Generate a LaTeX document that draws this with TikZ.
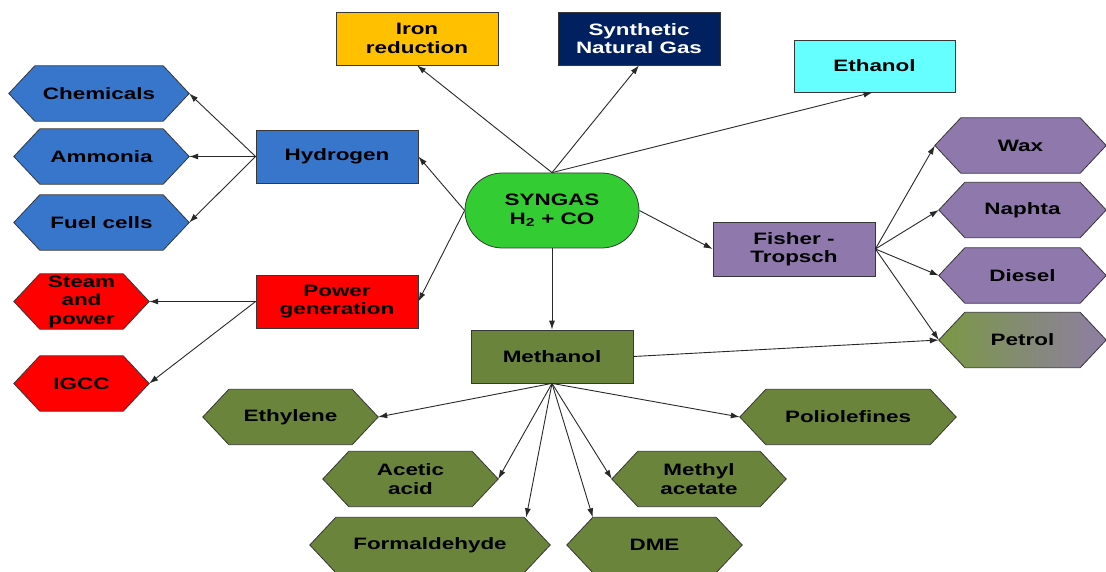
\documentclass[tikz,border=0pt]{standalone}
\usepackage{fontspec}
\setmainfont{Liberation Sans}[FakeStretch=1.36]
\usetikzlibrary{shapes.misc,arrows.meta,backgrounds}
\definecolor{bord}{RGB}{55,55,55}
\definecolor{arr}{RGB}{40,40,40}
\definecolor{cblue}{RGB}{56,118,204}
\definecolor{cred}{RGB}{255,0,0}
\definecolor{cgreen}{RGB}{51,204,51}
\definecolor{cpurple}{RGB}{143,120,172}
\definecolor{colive}{RGB}{106,132,60}
\definecolor{colivel}{RGB}{122,152,68}
\definecolor{cgrayp}{RGB}{142,126,164}
\definecolor{ciron}{RGB}{255,192,0}
\definecolor{csng}{RGB}{0,32,96}
\definecolor{ceth}{RGB}{102,255,255}
\tikzset{
  lbl/.style={font=\bfseries\fontsize{16.5}{18.5}\selectfont, align=center, text=black, inner sep=0pt},
  box/.style={lbl, draw=bord, line width=0.8pt, minimum width=162pt, minimum height=53pt},
  hexlbl/.style={lbl, minimum height=55pt},
  hexfill/.style={draw=bord, line width=0.8pt},
  conn/.style={draw=arr, line width=0.9pt, -{Latex[length=9pt,width=6pt]}},
}
\newcommand\hexnode[6]{%
  \node[hexlbl, minimum width=#4pt] (#1) at (#2,#3) {#6};
  \begin{scope}[on background layer]
    \path[hexfill,#5] (#1.west) -- ([xshift=26pt]#1.north west) -- ([xshift=-26pt]#1.north east)
      -- (#1.east) -- ([xshift=-26pt]#1.south east) -- ([xshift=26pt]#1.south west) -- cycle;
  \end{scope}}
\begin{document}
\begin{tikzpicture}[x=1pt,y=-1pt]
\useasboundingbox (0,0) rectangle (1106,572);
% central
\node[lbl, rounded rectangle, draw=bord, line width=0.8pt, fill=cgreen, minimum width=174pt, minimum height=75pt] (sg) at (552,210.5) {SYNGAS\\H\textsubscript{2} + CO};
% boxes
\node[box, fill=ciron] (iron) at (417,38.5) {Iron\\reduction};
\node[box, fill=csng, text=white] (sng) at (639,38.5) {Synthetic\\Natural Gas};
\node[box, fill=ceth, minimum width=161pt, minimum height=52pt] (eth) at (874.5,66) {Ethanol};
\node[box, fill=cblue] (hyd) at (337,156.5) {Hydrogen};
\node[box, fill=cred] (pow) at (337,301.5) {Power\\generation};
\node[box, fill=cpurple, minimum height=54pt] (ft) at (794,249) {Fisher -\\Tropsch};
\node[box, fill=colive] (meth) at (552,356.5) {Methanol};
% hexagons left
\hexnode{chem}{99}{93.5}{180}{fill=cblue}{Chemicals}
\hexnode{amm}{101.5}{156.5}{175}{fill=cblue}{Ammonia}
\hexnode{fuel}{101.5}{222.5}{175}{fill=cblue}{Fuel cells}
\hexnode{steam}{81.5}{301.5}{135}{fill=cred}{Steam\\and\\power}
\hexnode{igcc}{81.5}{383.5}{135}{fill=cred}{IGCC}
% hexagons right
\hexnode{wax}{1020.5}{145.5}{171}{fill=cpurple}{Wax}
\hexnode{nap}{1022.5}{210}{167}{fill=cpurple}{Naphta}
\hexnode{dies}{1022.5}{275.5}{167}{fill=cpurple}{Diesel}
\hexnode{pet}{1022.5}{340}{167}{left color=colivel, right color=cgrayp}{Petrol}
% hexagons bottom
\hexnode{ethy}{290.5}{417}{175}{fill=colive}{Ethylene}
\hexnode{acet}{410.5}{479}{175}{fill=colive}{Acetic\\acid}
\hexnode{form}{430}{545}{240}{fill=colive}{Formaldehyde}
\hexnode{poli}{848}{417}{216}{fill=colive}{Poliolefines}
\hexnode{meac}{699}{479}{174}{fill=colive}{Methyl\\acetate}
\hexnode{dme}{654.5}{545}{175}{fill=colive}{DME}
% connectors from syngas
\draw[conn] (sg.north) -- (iron.south);
\draw[conn] (sg.north) -- (sng.south);
\draw[conn] (sg.north) -- ([xshift=-2pt]eth.south);
\draw[conn] (sg.west) -- (hyd.east);
\draw[conn] (sg.west) -- (pow.east);
\draw[conn] (sg.east) -- (ft.west);
\draw[conn] (sg.south) -- (meth.north);
% hydrogen
\draw[conn] (hyd.west) -- (chem.east);
\draw[conn] (hyd.west) -- (amm.east);
\draw[conn] (hyd.west) -- (fuel.east);
% power
\draw[conn] (pow.west) -- (steam.east);
\draw[conn] (pow.west) -- (igcc.east);
% fischer
\draw[conn] (ft.east) -- (wax.west);
\draw[conn] (ft.east) -- (nap.west);
\draw[conn] (ft.east) -- (dies.west);
\draw[conn] (ft.east) -- (pet.west);
% methanol
\draw[conn] (meth.east) -- (pet.west);
\draw[conn] (meth.south) -- (ethy.east);
\draw[conn] (meth.south) -- (acet.east);
\draw[conn] (meth.south) -- ([xshift=-24pt]form.north east);
\draw[conn] (meth.south) -- ([xshift=26pt]dme.north west);
\draw[conn] (meth.south) -- (meac.west);
\draw[conn] (meth.south) -- (poli.west);
\end{tikzpicture}
\end{document}
